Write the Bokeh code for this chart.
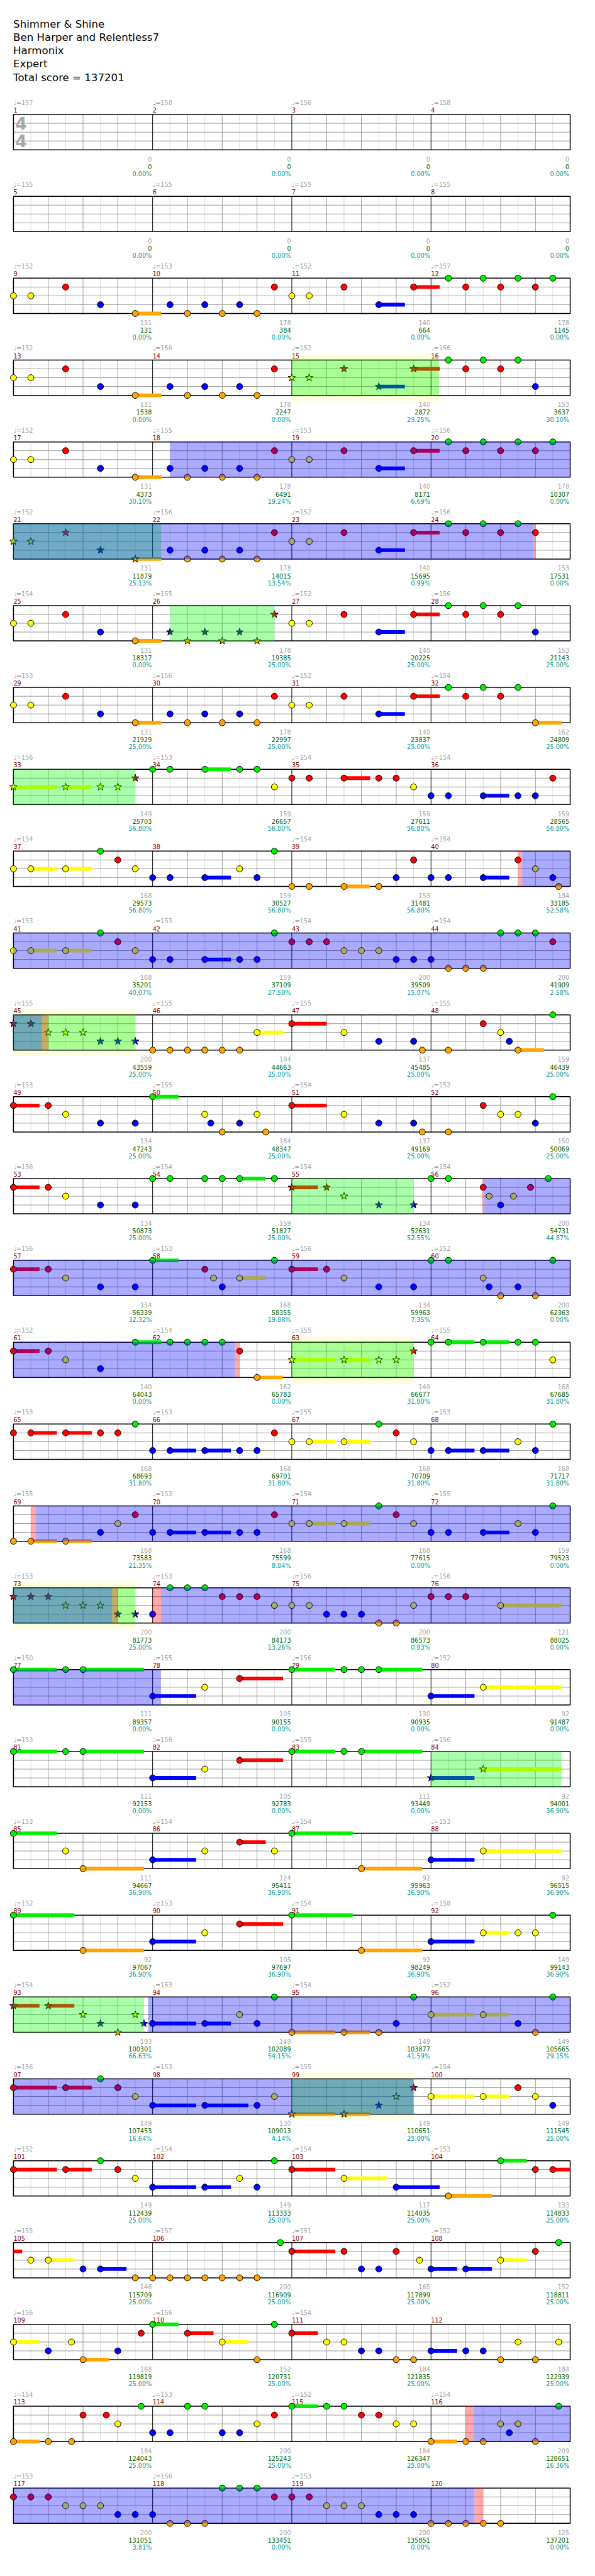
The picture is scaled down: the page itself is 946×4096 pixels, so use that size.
import math
from bokeh.plotting import figure
from bokeh.models import Range1d, ColumnDataSource
from bokeh.embed import file_html
from bokeh.resources import INLINE
from bokeh.core.properties import value

# ---------------- data ----------------
title_lines = ["Shimmer & Shine", "Ben Harper and Relentless7", "Harmonix", "Expert",
               "Total score = 137201"]

tempos = [157, 158, 156, 158, 155, 155, 155, 155, 152, 153, 152, 157, 152, 156, 152, 156,
          152, 155, 153, 156, 152, 156, 152, 156, 154, 155, 152, 156, 153, 156, 152, 154,
          156, 153, 154, 154, 154, None, 154, 154, 153, 153, 154, 154, 155, 155, 155, 155,
          153, 155, 154, 152, 156, 154, 154, 154, 156, 153, 156, 152, 152, 154, 155, 155,
          153, 153, 155, 153, 155, 153, 154, 155, 153, 153, 156, 156, 150, 155, 156, 152,
          153, 156, 155, 156, 153, 154, 154, 153, 152, 153, 154, 158, 154, 153, 154, 152,
          156, 153, 155, 154, 152, 154, 154, 153, 155, 157, 151, 152, 156, 156, 154, None,
          154, 153, 152, 154, 153, 156, 153, None]

measure_points = [0, 0, 0, 0, 0, 0, 0, 0, 131, 178, 140, 178, 131, 178, 140, 153,
                  131, 178, 140, 178, 131, 178, 140, 153, 131, 178, 140, 153, 131, 178, 140, 162,
                  149, 159, 159, 159, 168, 159, 159, 184, 168, 159, 200, 200, 200, 184, 137, 159,
                  134, 184, 137, 150, 134, 159, 134, 200, 134, 168, 134, 200, 140, 162, 149, 168,
                  168, 168, 168, 168, 168, 168, 168, 159, 200, 200, 200, 121, 111, 105, 130, 92,
                  111, 105, 111, 92, 111, 124, 92, 92, 92, 105, 92, 149, 193, 149, 149, 149,
                  149, 130, 149, 149, 149, 149, 117, 133, 146, 200, 165, 152, 168, 152, 184, 184,
                  184, 200, 184, 209, 200, 200, 200, 125]

running_totals = [0, 0, 0, 0, 0, 0, 0, 0, 131, 384, 664, 1145, 1538, 2247, 2872, 3637,
                  4373, 6491, 8171, 10307, 11879, 14015, 15695, 17531,
                  18317, 19385, 20225, 21143, 21929, 22997, 23837, 24809,
                  25703, 26657, 27611, 28565, 29573, 30527, 31481, 33185,
                  35201, 37109, 39509, 41909, 43559, 44663, 45485, 46439,
                  47243, 48347, 49169, 50069, 50873, 51827, 52631, 54731,
                  56339, 58355, 59963, 62363, 64043, 65783, 66677, 67685,
                  68693, 69701, 70709, 71717, 73583, 75599, 77615, 79523,
                  81773, 84173, 86573, 88025, 89357, 90155, 90935, 91487,
                  92153, 92783, 93449, 94001, 94667, 95411, 95963, 96515,
                  97067, 97697, 98249, 99143, 100301, 102089, 103877, 105665,
                  107453, 109013, 110651, 111545, 112439, 113333, 114035, 114833,
                  115709, 116909, 117899, 118811, 119819, 120731, 121835, 122939,
                  124043, 125243, 126347, 128651, 131051, 133451, 135851, 137201]

sp_percent = [0, 0, 0, 0, 0, 0, 0, 0, 0, 0, 0, 0, 0, 0, 29.25, 30.10,
              30.10, 19.24, 6.69, 0, 25.13, 13.54, 0.99, 0, 0, 25, 25, 25, 25, 25, 25, 25,
              56.80, 56.80, 56.80, 56.80, 56.80, 56.80, 56.80, 52.58, 40.07, 27.58, 15.07, 2.58,
              25, 25, 25, 25, 25, 25, 25, 25, 25, 25, 52.55, 44.87, 32.32, 19.88, 7.35, 0,
              0, 0, 31.80, 31.80, 31.80, 31.80, 31.80, 31.80, 21.35, 8.84, 0, 0,
              25, 13.26, 0.83, 0, 0, 0, 0, 0, 0, 0, 0, 36.90, 36.90, 36.90, 36.90, 36.90,
              36.90, 36.90, 36.90, 36.90, 66.63, 54.15, 41.59, 29.15, 16.64, 4.14, 25, 25,
              25, 25, 25, 25, 25, 25, 25, 25, 25, 25, 25, 25, 25, 25, 25, 16.36,
              3.81, 0, 0, 0]

# notes per measure: lane letter + beat (+ ":" sustain in beats)
measure_notes = [
    "", "", "", "", "", "", "", "",
    "Y0 Y.5 R1.5 B2.5 O3.5:.75", "B.5 O1 B1.5 O2 B2.5 O3 R3.5",
    "Y0 Y.5 R1.5 B2.5:.75 R3.5:.75", "G.5 R1 G1.5 R2 G2.5 R3 G3.5",
    "Y0 Y.5 R1.5 B2.5 O3.5:.75", "B.5 O1 B1.5 O2 B2.5 O3 R3.5",
    "Y0 Y.5 R1.5 B2.5:.75 R3.5:.75", "G.5 R1 G1.5 R2 G2.5 B3",
    "Y0 Y.5 R1.5 B2.5 O3.5:.75", "B.5 O1 B1.5 O2 B2.5 O3 R3.5",
    "Y0 Y.5 R1.5 B2.5:.75 R3.5:.75", "G.5 R1 G1.5 R2 G2.5 R3 G3.5",
    "Y0 Y.5 R1.5 B2.5 O3.5:.75", "B.5 O1 B1.5 O2 B2.5 O3 R3.5",
    "Y0 Y.5 R1.5 B2.5:.75 R3.5:.75", "G.5 R1 G1.5 R2 G2.5 R3",
    "Y0 Y.5 R1.5 B2.5 O3.5:.75", "B.5 O1 B1.5 O2 B2.5 O3 R3.5",
    "Y0 Y.5 R1.5 B2.5:.75 R3.5:.75", "G.5 R1 G1.5 R2 G2.5 B3",
    "Y0 Y.5 R1.5 B2.5 O3.5:.75", "B.5 O1 B1.5 O2 B2.5 O3 R3.5",
    "Y0 Y.5 R1.5 B2.5:.75 R3.5:.75", "G.5 R1 G1.5 R2 G2.5 O3:.75",
    "Y0:1.25 Y1.5:.75 Y2.5 Y3 R3.5", "G0 G.5 G1.5:.75 G2.5 G3 Y3.5",
    "R0 R.5 R1.5:.75 R2.5 R3 Y3.5", "B0 B.5 B1.5:.75 B2.5 B3 R3.5",
    "Y0 Y.5:.75 Y1.5:.75 G2.5 R3 Y3.5", "B0 B.5 B1.5:.75 Y2.5 B3 G3.5",
    "O0 O.5 O1.5:.75 O2.5 B3 R3.5", "B0 B.5 B1.5:.75 R2.5 Y3 B3.5 O3.67",
    "Y0 Y.5:.75 Y1.5:.75 G2.5 R3 Y3.5", "B0 B.5 B1.5:.75 B2.5 B3 G3.5",
    "R0 R.5 R1 Y1.5 Y2 Y2.5 B3 B3.5", "B0 O.5 O1 O1.5 G2 G2.5 G3 R3.5",
    "R0 R.5 Y1 Y1.5 Y2 B2.5 B3 B3.5", "O0 O.5 O1 O1.5 O2 O2.5 Y3:.75",
    "R0:1 Y1.5 B2.5 B3.5 O3.75", "O.5 R1.5 Y2 B2.25 O2.5:.75 G3.5",
    "R0:.75 R1 Y1.5 B2.5 B3.5", "G0:.75 Y1.5 B1.67 O2 B2.5 Y3 O3.25",
    "R0:1 Y1.5 B2.5 B3.5 O3.75", "O.5 R1.5 Y2 Y2.5 B3 G3.5",
    "R0:.75 R1 Y1.5 B2.5 B3.5", "G0 G.5 G1.5 G2 G2.5:.75 G3.5",
    "R0:.75 R1 Y1.5 B2.5 B3.5", "G0 G.5 R1.5 Y1.67 B2 Y2.37 R2.86 G3.37",
    "R0:.75 R1 Y1.5 B2.5 B3.5", "G0:.75 R1.5 Y1.75 B2 Y2.5:.75 G3.5",
    "R0:.75 R1 Y1.5 B2.5 B3.5", "G0 G.5 Y1.5 B1.67 O2 B2.5 O3 G3.5",
    "R0:.75 R1 Y1.5 B2.5 G3.5:.75", "G.5 G1 G1.5 G2 R2.5 O3:.75",
    "Y0:1.25 Y1.5:.75 Y2.5 Y3 R3.5", "G0 G.5:.75 G1.5:.75 G2.5 G3 Y3.5",
    "R0 R.5:.75 R1.5:.75 R2.5 R3 G3.5", "B0 B.5:.75 B1.5:.75 B2.5 B3 R3.5",
    "Y0 Y.5:.75 Y1.5:.75 G2.5 R3 Y3.5", "B0 B.5:.75 B1.5:.75 Y2.5 B3 G3.5",
    "O0 O.5:.75 O1.5:.75 B2.5 Y3 R3.5", "B0 B.5:.75 B1.5:.75 B2.5 B3 R3.5",
    "Y0 Y.5:.75 Y1.5:.75 G2.5 R3 Y3.5", "B0 B.5 B1.5:.75 Y2.5 B3 G3.5",
    "R0 R.5 R1 Y1.5 Y2 Y2.5 B3 B3.5", "B0 G.5 G1 G1.5 R2 R2.5 R3 Y3.5",
    "Y0 Y.5 B1 B1.5 B2 O2.5 O3 Y3.5", "R0 R.5 R1 Y2:1.75",
    "G0:1.25 G1.5 G2:1.75", "B0:1.25 Y1.5 R2.5:1.25",
    "G0:1.25 G1.5 G2 G2.5:1.25", "B0:1.25 Y1.5:2.25",
    "G0:1.25 G1.5 G2:1.75", "B0:1.25 Y1.5 R2.5:1.25",
    "G0:1.25 G1.5 G2:1.75", "B0:1.25 Y1.5:2.25",
    "G0:1.25 Y1.5 O2:1.75", "B0:1.25 Y1.5 R2.5:.75 Y3.5",
    "G0:1.75 O2:1.75", "B0:1.25 Y1.5:2.25",
    "G0:1.75 O2:1.75", "B0:1.25 Y1.5 R2.5:1.25",
    "G0:1.75 O2:1.75", "B0:1.25 Y1.5:.75 Y2.5 Y3 G3.5",
    "R0:.75 R1:.75 Y2 B2.5 O3 Y3.5 B3.75", "B0:1.25 B1.5:.75 Y2.5 B3 G3.5",
    "O0:1.25 O1.5:.75 O2.5 B3 G3.5", "Y0:1.25 Y1.5:.75 B2.5 O3 G3.5",
    "R0:1.25 R1.5:.75 G2.5 R3 Y3.5", "B0:1.25 B1.5:1.25 B3 Y3.5",
    "O0:1.25 O1.5:.75 B2.5 Y3 R3.5", "Y0:1.25 Y1.5:.75 R2.5 Y3 B3.5",
    "R0:1.25 R1.5:.75 G2.5 R3 Y3.5", "B0:1.25 B1.5:.75 Y2.5 B3 G3.5",
    "R0:1.25 Y1.5:1.25 B3:1.25", "O.5:1.25 G2:.75 R3 R3.5:.75",
    "Y.5 Y1:.75 B2 B2.5:.75 O3.5", "O0 O.5 O1 O1.5 O2 O2.5 O3 G3.67",
    "R0:1.25 R1.5 B2 B2.5 R3 Y3.67", "B0:.75 B1:.75 Y2:.75 R3 G3.67",
    "Y0:.75 B1 Y1.67 O2:.75 B3 R3.67", "G0:.75 R1:.75 Y2:.75 O3 G3.5",
    "R0:.75 Y1 Y1.5 B2 B2.5 O3 O3.5", "B0:.75 B1 B1.5 O2 Y2.5 O3 Y3.67",
    "O0:.75 O1 O1.67 R2 R2.67 Y3 G3.67", "B0 B.5 G1 G1.5 B2 B2.5 Y3 R3.5",
    "G0:.75 G1 G1.5 R2 R2.5 Y3 Y3.5", "O0:.75 O1 O1.5 Y2 B2.25 Y2.5 O3 G3.67",
    "R0 R.5 R1 Y1.5 Y2 Y2.5 B3 B3.5", "B0 O.5 O1 O1.5 G2 G2.5 G3 R3.5",
    "R0 R.5 Y1 Y1.5 Y2 B2.5 B3 B3.5", "O0 O.5 O1 O1.5 O2",
]

# spans in absolute beats (beat 0 = start of measure 1)
overdrive_spans = [(68.5, 94.95), (158.62, 176.82), (221.53, 246.36), (272.64, 290.84),
                   (292.24, 308.24), (371.87, 395.5), (461.22, 477.25)]
activation_marks = [(94.95, 95.0), (158.5, 158.62), (176.82, 177.0), (221.47, 221.53),
                    (246.36, 246.5), (272.5, 272.64), (290.84, 291.0), (292.0, 292.24),
                    (461.0, 461.22), (477.25, 477.5)]
star_phrases = [(56.0, 60.23), (80.0, 84.245), (100.5, 103.5), (128.0, 131.5), (176.0, 179.5),
                (216.0, 219.5), (248.0, 251.5), (288.0, 291.5), (332.0, 335.75),
                (368.0, 371.75), (392.0, 395.5)]
phrase_band = [True, False, False, False, True, False, True, True, False, False, True]

# ---------------- geometry (reference pixels) ----------------
S = 0.923
FIG_W, FIG_H = 930, 4080
OFF = 8 / S
X0, MW = 31.3, 239.75
BEAT = MW / 4
T0, ROW_H, STAFF_H = 205.4, 141.0, 60.8
LANE_H = STAFF_H / 4
N_ROWS = 30
FONT = value("DejaVu Sans")

LANE_COLORS = {"G": "#00f000", "R": "#ff0000", "Y": "#ffff00", "B": "#0000ff", "O": "#ffa500"}
LANE_INDEX = {"G": 0, "R": 1, "Y": 2, "B": 3, "O": 4}


def row_top(r):
    return T0 + ROW_H * r


def pos(t):
    r = int(math.floor(t / 16 + 1e-9))
    return r, X0 + (t - 16 * r) * BEAT


def split_span(a, b):
    out = []
    t = a
    while t < b - 1e-9:
        r = int(math.floor(t / 16 + 1e-9))
        e = min(b, 16 * (r + 1))
        out.append((r, X0 + (t - 16 * r) * BEAT, X0 + (e - 16 * r) * BEAT))
        t = e
    return out


p = figure(width=FIG_W, height=FIG_H, output_backend="svg", toolbar_location=None,
           x_range=Range1d(OFF, OFF + FIG_W / S), y_range=Range1d(OFF + FIG_H / S, OFF),
           x_axis_location=None, y_axis_location=None, min_border=0)
p.outline_line_color = None
p.grid.visible = False
p.background_fill_color = "white"
p.border_fill_color = "white"

# ---- title ----
p.text(x=[31.0] * len(title_lines), y=[49.3 + 23.1 * i for i in range(len(title_lines))],
       text=title_lines, text_font=FONT, text_font_size=f"{18 * S:.2f}px",
       text_color="#000000", text_baseline="alphabetic", text_align="left")

# ---- yellow bands behind some star phrases ----
bl, br, bt, bb = [], [], [], []
for (a, b), band in zip(star_phrases, phrase_band):
    if not band:
        continue
    for r, x1, x2 in split_span(a, b):
        T = row_top(r)
        bl.append(x1); br.append(x2); bt.append(T - 10); bb.append(T + STAFF_H + 10)
p.quad(left=bl, right=br, top=bt, bottom=bb, fill_color="#ffffdc", line_color=None)

# ---- grid ----
seg = {"light": ([], [], [], []), "gray": ([], [], [], []), "black": ([], [], [], [])}
for r in range(N_ROWS):
    T = row_top(r)
    B = T + STAFF_H
    for k in range(16):
        xh = X0 + (k + 0.5) * BEAT
        seg["light"][0].append(xh); seg["light"][1].append(T)
        seg["light"][2].append(xh); seg["light"][3].append(B)
        if k % 4 != 0:
            xb = X0 + k * BEAT
            seg["gray"][0].append(xb); seg["gray"][1].append(T)
            seg["gray"][2].append(xb); seg["gray"][3].append(B)
    for i in range(1, 4):
        y = T + LANE_H * i
        seg["gray"][0].append(X0); seg["gray"][1].append(y)
        seg["gray"][2].append(X0 + 4 * MW); seg["gray"][3].append(y)
    for k in range(1, 4):
        xm = X0 + k * MW
        seg["black"][0].append(xm); seg["black"][1].append(T)
        seg["black"][2].append(xm); seg["black"][3].append(B)
p.segment(*seg["light"], line_color="#dcdcdc", line_width=1)
p.segment(*seg["gray"], line_color="#9a9a9a", line_width=1)
p.segment(*seg["black"], line_color="#000000", line_width=1)
p.quad(left=[X0] * N_ROWS, right=[X0 + 4 * MW] * N_ROWS,
       top=[row_top(r) for r in range(N_ROWS)], bottom=[row_top(r) + STAFF_H for r in range(N_ROWS)],
       fill_alpha=0, line_color="#000000", line_width=1.5)

# time signature
T = row_top(0)
p.text(x=[44.5, 44.5], y=[T + 15.0, T + 45.3], text=["4", "4"], text_font=FONT,
       text_font_size=f"{29 * S:.2f}px", text_font_style="bold", text_color="#a8a8a8",
       text_align="center", text_baseline="middle")

# ---- notes ----
def in_phrase(t):
    return any(a - 1e-6 <= t <= b + 1e-6 for a, b in star_phrases)

sus = {"l": [], "r": [], "t": [], "b": [], "c": []}
circ = {"x": [], "y": [], "c": []}
star = {"x": [], "y": [], "c": []}
for m, s in enumerate(measure_notes, start=1):
    for tok in s.split():
        lane = tok[0]
        rest = tok[1:]
        if ":" in rest:
            bs, ss = rest.split(":")
            beat, length = float(bs), float(ss)
        else:
            beat, length = float(rest), 0.0
        t = 4 * (m - 1) + beat
        li = LANE_INDEX[lane]
        col = LANE_COLORS[lane]
        if length > 0:
            for r, x1, x2 in split_span(t, t + length):
                yl = row_top(r) + LANE_H * li
                sus["l"].append(x1); sus["r"].append(x2)
                sus["t"].append(yl - 3.2); sus["b"].append(yl + 3.2); sus["c"].append(col)
        r, x = pos(t)
        y = row_top(r) + LANE_H * li
        d = star if in_phrase(t) else circ
        d["x"].append(x); d["y"].append(y); d["c"].append(col)

p.quad(left="l", right="r", top="t", bottom="b", fill_color="c", line_color=None,
       source=ColumnDataSource(sus))
p.scatter(x="x", y="y", marker="circle", size=10.6 * S, fill_color="c", line_color="#000000",
          line_width=1, source=ColumnDataSource(circ))
p.scatter(x="x", y="y", marker="star", size=13.5 * S, fill_color="c", line_color="#000000",
          line_width=1, source=ColumnDataSource(star))

# ---- overlays ----
def overlay(spans, color):
    L, R, TT, BB = [], [], [], []
    for a, b in spans:
        for r, x1, x2 in split_span(a, b):
            L.append(x1); R.append(x2); TT.append(row_top(r)); BB.append(row_top(r) + STAFF_H)
    p.quad(left=L, right=R, top=TT, bottom=BB, fill_color=color, fill_alpha=1 / 3, line_color=None)

overlay(star_phrases, "#00ff00")
overlay(overdrive_spans, "#0000ff")
overlay(activation_marks, "#ff0000")

# ---- measure texts ----
fs = f"{10.5 * S:.2f}px"
tx, ty, tt = [], [], []
mx, my, mt = [], [], []
gx, gy, gt = [], [], []
sx, sy, st = [], [], []
cx, cy, ct = [], [], []
for i in range(120):
    r, k = divmod(i, 4)
    T = row_top(r)
    B = T + STAFF_H
    xl = X0 + k * MW
    xr = X0 + (k + 1) * MW - 1.5
    if tempos[i] is not None:
        tx.append(xl); ty.append(T - 20.2); tt.append(f"\u2669={tempos[i]}")
    mx.append(xl); my.append(T - 7.5); mt.append(str(i + 1))
    gx.append(xr); gy.append(B + 15.7); gt.append(str(measure_points[i]))
    sx.append(xr); sy.append(B + 29.0); st.append(str(running_totals[i]))
    cx.append(xr); cy.append(B + 41.7); ct.append(f"{sp_percent[i]:.2f}%")

p.text(x=tx, y=ty, text=tt, text_font=FONT, text_font_size=fs, text_color="#a4a4a4",
       text_align="left", text_baseline="alphabetic")
p.text(x=mx, y=my, text=mt, text_font=FONT, text_font_size=fs, text_color="#8b0000",
       text_align="left", text_baseline="alphabetic")
p.text(x=gx, y=gy, text=gt, text_font=FONT, text_font_size=fs, text_color="#a4a4a4",
       text_align="right", text_baseline="alphabetic")
p.text(x=sx, y=sy, text=st, text_font=FONT, text_font_size=fs, text_color="#006400",
       text_align="right", text_baseline="alphabetic")
p.text(x=cx, y=cy, text=ct, text_font=FONT, text_font_size=fs, text_color="#009a9a",
       text_align="right", text_baseline="alphabetic")

open("out.html", "w").write(file_html(p, INLINE, "Shimmer & Shine"))
